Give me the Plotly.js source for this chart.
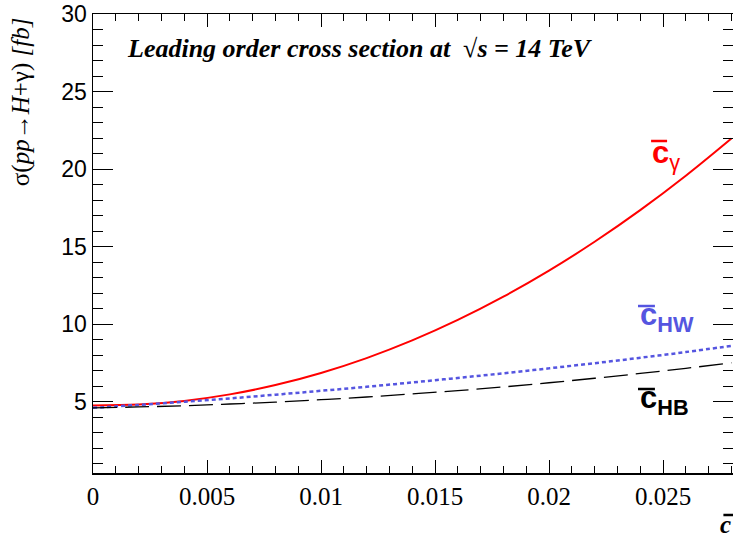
<!DOCTYPE html>
<html>
<head>
<meta charset="utf-8">
<script src="https://cdn.plot.ly/plotly-3.0.1.min.js"></script>
<style>html,body{margin:0;padding:0;background:#fff;}#chart{width:733px;height:533px;}</style>
</head>
<body>
<div id="chart"></div>
<script>
const cbar = [0, 0.002, 0.004, 0.006, 0.008, 0.010, 0.012, 0.014, 0.016, 0.018, 0.020, 0.022, 0.024, 0.026, 0.028];
const sigmaGamma = [4.75, 4.81, 5.05, 5.47, 6.07, 6.85, 7.81, 8.95, 10.27, 11.77, 13.45, 15.31, 17.35, 19.57, 21.97];
const sigmaHW = [4.6, 4.79, 4.99, 5.21, 5.45, 5.7, 5.96, 6.24, 6.53, 6.83, 7.15, 7.48, 7.83, 8.2, 8.6];
const sigmaHB = [4.6, 4.66, 4.74, 4.85, 4.97, 5.13, 5.30, 5.50, 5.71, 5.95, 6.22, 6.51, 6.82, 7.15, 7.51];

const traces = [
  {x: cbar, y: sigmaGamma, mode: 'lines', line: {color: '#ff0000', width: 2, shape: 'spline'}, hoverinfo: 'skip'},
  {x: cbar, y: sigmaHW, mode: 'lines', line: {color: '#5555e0', width: 2.5, dash: '4px,3px', shape: 'spline'}, hoverinfo: 'skip'},
  {x: cbar, y: sigmaHB, mode: 'lines', line: {color: '#000000', width: 1.3, dash: '24px,8px', shape: 'spline'}, hoverinfo: 'skip'}
];

function bar(x0, x1, y, color) {
  return {type: 'line', xref: 'paper', yref: 'paper', x0: x0, x1: x1, y0: y, y1: y, line: {color: color, width: 2.5}};
}

const layout = {
  width: 733, height: 533,
  margin: {l: 93, r: 0, t: 14, b: 60},
  paper_bgcolor: '#ffffff', plot_bgcolor: '#ffffff',
  showlegend: false,
  xaxis: {
    range: [0, 0.02807], dtick: 0.005, tick0: 0,
    ticks: 'inside', ticklen: 13, tickwidth: 1, tickcolor: '#000',
    minor: {dtick: 0.001, ticks: 'inside', ticklen: 7, tickwidth: 1, tickcolor: '#000'},
    showline: true, linecolor: '#000', linewidth: 1.5, mirror: 'ticks',
    showgrid: false, zeroline: false,
    tickfont: {family: 'Liberation Serif', size: 25, color: '#000'}
  },
  yaxis: {
    range: [0.4, 30], dtick: 5, tick0: 0,
    ticks: 'inside', ticklen: 20, tickwidth: 1, tickcolor: '#000',
    minor: {dtick: 1, ticks: 'inside', ticklen: 10, tickwidth: 1, tickcolor: '#000'},
    showline: true, linecolor: '#000', linewidth: 1.5, mirror: 'ticks',
    showgrid: false, zeroline: false,
    tickfont: {family: 'Liberation Sans', size: 23, color: '#000'}
  },
  shapes: [
    bar(0.872, 0.897, 0.7233, '#ff0000'),
    bar(0.8516, 0.878, 0.3638, '#5555e0'),
    bar(0.8516, 0.878, 0.183, '#000000'),
    bar(0.985, 1.0, -0.0915, '#000000')
  ],
  annotations: [
    {xref: 'paper', yref: 'paper', x: 0.05, y: 0.924, xanchor: 'left', yanchor: 'middle', showarrow: false,
     text: '<b><i>Leading order cross section at  </i></b>√<b><i>s = 14 TeV</i></b>',
     font: {family: 'Liberation Serif', size: 26, color: '#000'}},
    {xref: 'paper', yref: 'paper', x: -0.1125, y: 0.808, xanchor: 'center', yanchor: 'middle', showarrow: false, textangle: -90,
     text: 'σ(<i>pp</i>→<i>H</i>+γ) <i>[fb]</i>',
     font: {family: 'Liberation Serif', size: 25, color: '#000'}},
    {xref: 'paper', yref: 'paper', x: 0.870, y: 0.693, xanchor: 'left', yanchor: 'middle', showarrow: false,
     text: '<b>c</b><sub>γ</sub>', font: {family: 'Liberation Sans', size: 31, color: '#ff0000'}},
    {xref: 'paper', yref: 'paper', x: 0.852, y: 0.34, xanchor: 'left', yanchor: 'middle', showarrow: false,
     text: '<b>c<sub>HW</sub></b>', font: {family: 'Liberation Sans', size: 31, color: '#5555e0'}},
    {xref: 'paper', yref: 'paper', x: 0.852, y: 0.159, xanchor: 'left', yanchor: 'middle', showarrow: false,
     text: '<b>c<sub>HB</sub></b>', font: {family: 'Liberation Sans', size: 31, color: '#000'}},
    {xref: 'paper', yref: 'paper', x: 1.0, y: -0.112, xanchor: 'right', yanchor: 'middle', showarrow: false,
     text: '<b><i>c</i></b>', font: {family: 'Liberation Serif', size: 25, color: '#000'}}
  ]
};

Plotly.newPlot('chart', traces, layout, {staticPlot: true, displayModeBar: false});
</script>
</body>
</html>
